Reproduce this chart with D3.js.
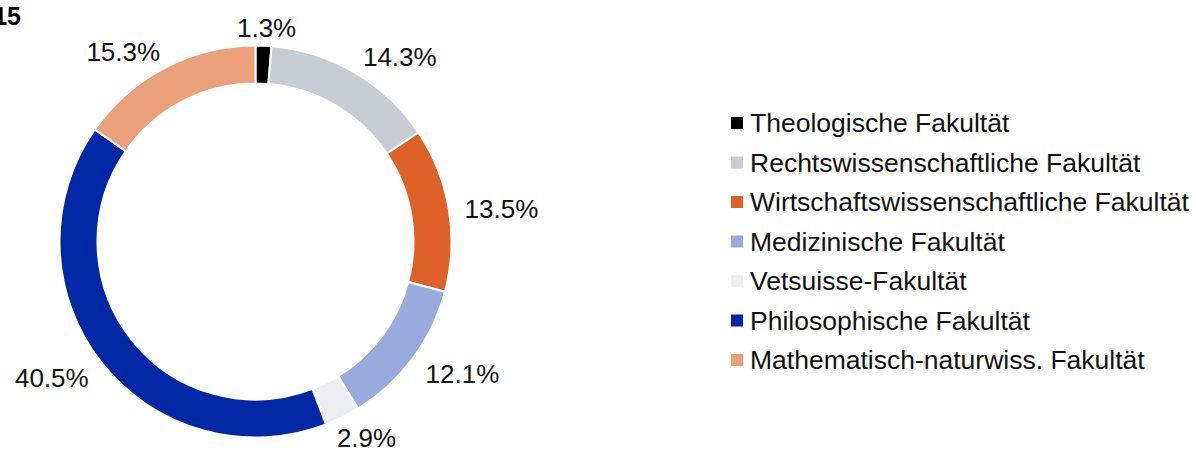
<!DOCTYPE html>
<html>
<head>
<meta charset="utf-8">
<script src="https://cdn.jsdelivr.net/npm/d3@7"></script>
<style>
    body { margin: 0; background: #fff; }
    svg { font-family: "Liberation Sans", Arial, sans-serif; }
</style>
</head>
<body>
<div class="chart_container"></div>
<script>
//^ DATA //
const faculties = [
    "Theologische Fakultät",
    "Rechtswissenschaftliche Fakultät",
    "Wirtschaftswissenschaftliche Fakultät",
    "Medizinische Fakultät",
    "Vetsuisse-Fakultät",
    "Philosophische Fakultät",
    "Mathematisch-naturwiss. Fakultät"
];
const shares = [1.3, 14.3, 13.5, 12.1, 2.9, 40.5, 15.3];
const colors = ["#000000", "#c8cdd4", "#de6228", "#99aadc", "#eceef0", "#0028a4", "#eba07c"];
const title = "2015";

//^ DIMENSIONS //
const width = 1196;
const height = 452;
const cx = 255.5;
const cy = 241.5;
const outerR = 196;
const innerR = 158;
const labelR = 212;

const svg = d3.select(".chart_container")
    .append("svg")
    .attr("width", width)
    .attr("height", height);

//^ TITLE (cut at the left edge, like the original) //
svg.append("text")
    .attr("x", 21)
    .attr("y", 25)
    .attr("text-anchor", "end")
    .attr("font-size", 25)
    .attr("font-weight", "bold")
    .text(title);

//^ DONUT //
const pie = d3.pie().sort(null).value((d) => d);
const arcs = pie(shares);
const arc = d3.arc().innerRadius(innerR).outerRadius(outerR);

const g = svg.append("g").attr("transform", `translate(${cx},${cy})`);

g.selectAll("path")
    .data(arcs)
    .enter()
    .append("path")
    .attr("d", arc)
    .attr("fill", (d, i) => colors[i])
    .attr("stroke", "#fff")
    .attr("stroke-width", 2);

//^ LABELS: pushed outward so the box sits outside the label circle //
const labels = g.selectAll(".lbl")
    .data(arcs)
    .enter()
    .append("text")
    .attr("class", "lbl")
    .attr("font-size", 26)
    .attr("fill", "#111")
    .attr("text-anchor", "middle")
    .attr("dominant-baseline", "central")
    .text((d) => d3.format(".1f")(d.value) + "%");

labels.each(function (d) {
    const a = (d.startAngle + d.endAngle) / 2;
    const s = Math.sin(a);
    const c = Math.cos(a);
    const w = this.getComputedTextLength();
    const clamp = (v) => Math.max(-1, Math.min(1, v));
    const k = c > 0 ? 2 : 1.3;
    const x = s * labelR + (w / 2) * clamp(s * k);
    // keep the lowest label inside the picture
    const y = Math.min(-c * labelR - 5 * c + 3, height - cy - 14);
    d3.select(this).attr("x", x).attr("y", y);
});

//^ LEGEND //
const legend = svg.append("g").attr("transform", "translate(731,123)");
const row = legend.selectAll("g")
    .data(faculties)
    .enter()
    .append("g")
    .attr("transform", (d, i) => `translate(0,${i * 39.5})`);

row.append("rect")
    .attr("x", 0)
    .attr("y", -6)
    .attr("width", 12)
    .attr("height", 12)
    .attr("fill", (d, i) => colors[i]);

row.append("text")
    .attr("x", 19)
    .attr("y", 0)
    .attr("dominant-baseline", "central")
    .attr("font-size", 26.5)
    .attr("fill", "#111")
    .text((d) => d);
</script>
</body>
</html>
